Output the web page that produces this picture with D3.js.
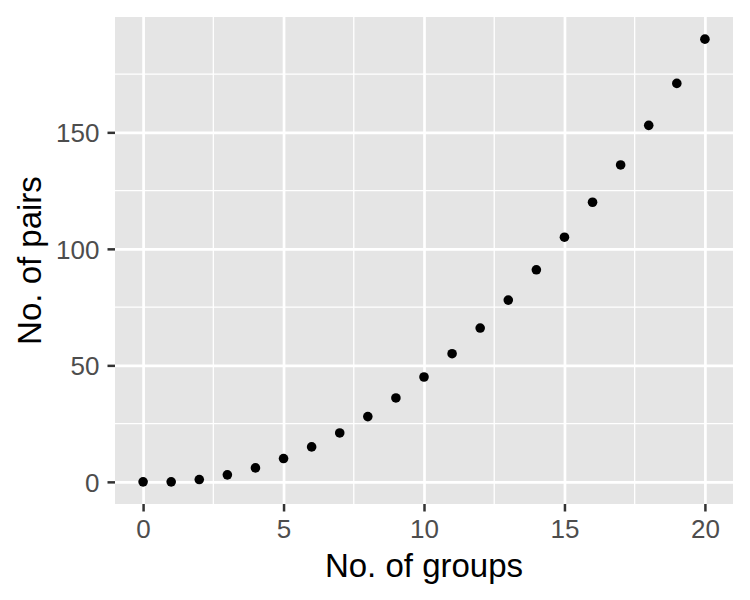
<!DOCTYPE html>
<html>
<head>
<meta charset="utf-8">
<script src="https://cdn.jsdelivr.net/npm/d3@7"></script>
<style>
  body { margin: 0; background: #fff; }
  text { font-family: "Liberation Sans", Arial, sans-serif; }
</style>
</head>
<body>
<div id="chart"></div>
<script>
// number of groups and the pairs they make
const groups = [0, 1, 2, 3, 4, 5, 6, 7, 8, 9, 10, 11, 12, 13, 14, 15, 16, 17, 18, 19, 20];
const pairs = [0, 0, 1, 3, 6, 10, 15, 21, 28, 36, 45, 55, 66, 78, 91, 105, 120, 136, 153, 171, 190];
const xTicks = [0, 5, 10, 15, 20];
const yTicks = [0, 50, 100, 150];
const xMinor = [2.5, 7.5, 12.5, 17.5];
const yMinor = [25, 75, 125, 175];

const width = 750;
const height = 600;
const margin = { top: 17, right: 17, bottom: 96, left: 115 };
const w = width - margin.left - margin.right;
const h = height - margin.top - margin.bottom;

const data = groups.map((g, i) => ({ g, p: pairs[i] }));

// ggplot-style 5% expansion
const xScale = d3.scaleLinear().domain([-1, 21]).range([0, w]);
const yScale = d3.scaleLinear().domain([-9.5, 199.5]).range([h, 0]);

const svg = d3.select('#chart')
  .append('svg')
  .attr('width', width)
  .attr('height', height)
  .append('g')
  .attr('transform', `translate(${margin.left},${margin.top})`);

// panel background
svg.append('rect')
  .attr('width', w)
  .attr('height', h)
  .attr('fill', '#E5E5E5');

// minor grid
svg.append('g')
  .selectAll('line')
  .data(xMinor)
  .enter().append('line')
  .attr('x1', (d) => xScale(d))
  .attr('x2', (d) => xScale(d))
  .attr('y1', 0)
  .attr('y2', h)
  .attr('stroke', '#fff')
  .attr('stroke-width', 1.3);

svg.append('g')
  .selectAll('line')
  .data(yMinor)
  .enter().append('line')
  .attr('x1', 0)
  .attr('x2', w)
  .attr('y1', (d) => yScale(d))
  .attr('y2', (d) => yScale(d))
  .attr('stroke', '#fff')
  .attr('stroke-width', 1.3);

// major grid
svg.append('g')
  .attr('class', 'grid')
  .attr('transform', `translate(0,${h})`)
  .call(d3.axisBottom(xScale).tickValues(xTicks).tickSize(-h).tickFormat(''))
  .call((g) => g.select('.domain').remove())
  .call((g) => g.selectAll('line').attr('stroke', '#fff').attr('stroke-width', 2.7));

svg.append('g')
  .attr('class', 'grid')
  .call(d3.axisLeft(yScale).tickValues(yTicks).tickSize(-w).tickFormat(''))
  .call((g) => g.select('.domain').remove())
  .call((g) => g.selectAll('line').attr('stroke', '#fff').attr('stroke-width', 2.7));

// points
svg.selectAll('.dot')
  .data(data)
  .enter().append('circle')
  .attr('class', 'dot')
  .attr('cx', (d) => xScale(d.g))
  .attr('cy', (d) => yScale(d.p))
  .attr('r', 4.8)
  .attr('fill', '#000');

// x axis
svg.append('g')
  .attr('class', 'x-axis')
  .attr('transform', `translate(0,${h})`)
  .call(d3.axisBottom(xScale).tickValues(xTicks).tickSize(7.5).tickPadding(8))
  .call((g) => g.select('.domain').remove())
  .call((g) => g.selectAll('line').attr('stroke', '#333').attr('stroke-width', 2.5))
  .call((g) => g.selectAll('text')
    .attr('fill', '#4D4D4D')
    .style('font-size', '26px')
    .attr('dy', '0.71em'));

// y axis
svg.append('g')
  .attr('class', 'y-axis')
  .call(d3.axisLeft(yScale).tickValues(yTicks).tickSize(7.5).tickPadding(8))
  .call((g) => g.select('.domain').remove())
  .call((g) => g.selectAll('line').attr('stroke', '#333').attr('stroke-width', 2.5))
  .call((g) => g.selectAll('text')
    .attr('fill', '#4D4D4D')
    .style('font-size', '26px')
    .attr('dy', '0.36em'));

svg.append('text')
  .attr('class', 'x-label')
  .attr('text-anchor', 'middle')
  .attr('x', w / 2)
  .attr('y', 577 - margin.top)
  .style('font-size', '33px')
  .attr('fill', '#000')
  .text('No. of groups');

svg.append('text')
  .attr('class', 'y-label')
  .attr('text-anchor', 'middle')
  .attr('x', -h / 2)
  .attr('y', 41 - margin.left)
  .attr('transform', 'rotate(-90)')
  .style('font-size', '33px')
  .attr('fill', '#000')
  .text('No. of pairs');
</script>
</body>
</html>
